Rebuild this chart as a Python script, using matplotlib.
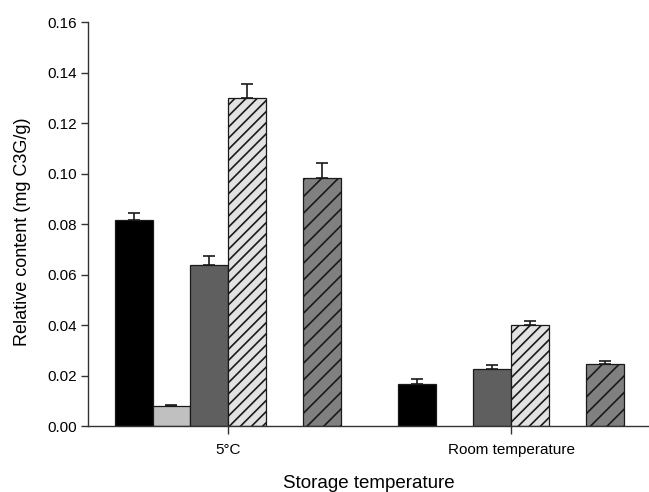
import numpy as np
import matplotlib
matplotlib.use('Agg')
import matplotlib.pyplot as plt

# Werte
categories = ['5°C', 'Room temperature']
black_vals = [0.0816, 0.0168]
black_err = [0.0029, 0.0019]
lgray_vals = [0.0079, np.nan]
lgray_err = [0.0004, np.nan]
dgray_vals = [0.0639, 0.0226]
dgray_err = [0.0036, 0.0016]
lhatch_vals = [0.1300, 0.0399]
lhatch_err = [0.0053, 0.0018]
dhatch_vals = [0.0983, 0.0246]
dhatch_err = [0.0061, 0.0011]

plt.rcParams['font.family'] = ['Liberation Sans', 'DejaVu Sans']
plt.rcParams['hatch.linewidth'] = 1.2

fig = plt.figure(figsize=(6.49, 4.92), dpi=100)
ax = fig.add_axes([0.1356, 0.134, 0.8644, 0.821])

x = np.arange(len(categories))
w = 0.1332
# 6 Slots pro Gruppe, Slot 5 bleibt leer
bars = [
    (black_vals, black_err, 0, '#000000', None),
    (lgray_vals, lgray_err, 1, '#c0c0c0', None),
    (dgray_vals, dgray_err, 2, '#5f5f5f', None),
    (lhatch_vals, lhatch_err, 3, '#e2e2e2', '///'),
    (dhatch_vals, dhatch_err, 5, '#808080', '//'),
]

for vals, errs, slot, color, hatch in bars:
    pos = x + (slot - 2.5) * w
    ax.bar(pos, vals, width=w, color=color, edgecolor='#1a1a1a', linewidth=0.9,
           hatch=hatch, zorder=2)
    ax.errorbar(pos, vals, yerr=[np.zeros(len(vals)), errs], fmt='none',
                ecolor='#1a1a1a', elinewidth=1.2, capsize=4.5, capthick=1.2, zorder=3)

ax.set_xlim(-0.4947, 1.4876)
ax.set_ylim(0, 0.16)
ax.set_yticks(np.arange(0, 0.161, 0.02))
ax.set_yticklabels([f'{v:.2f}' for v in np.arange(0, 0.161, 0.02)])
ax.set_xticks(x)
ax.set_xticklabels(categories)

for s in ['top', 'right']:
    ax.spines[s].set_visible(False)
for s in ['left', 'bottom']:
    ax.spines[s].set_color('#333333')
    ax.spines[s].set_linewidth(1.0)

ax.tick_params(axis='y', direction='out', length=5, width=1, color='#333333',
               labelsize=11, pad=3)
ax.tick_params(axis='x', direction='out', length=6, width=1, color='#333333',
               labelsize=11, pad=6)

ax.set_xlabel('Storage temperature', fontsize=13.5, labelpad=13)
ax.set_ylabel('Relative content (mg C3G/g)', fontsize=13)
ax.yaxis.set_label_coords(-0.102, 0.48)

fig.savefig('out.png', dpi=100)
